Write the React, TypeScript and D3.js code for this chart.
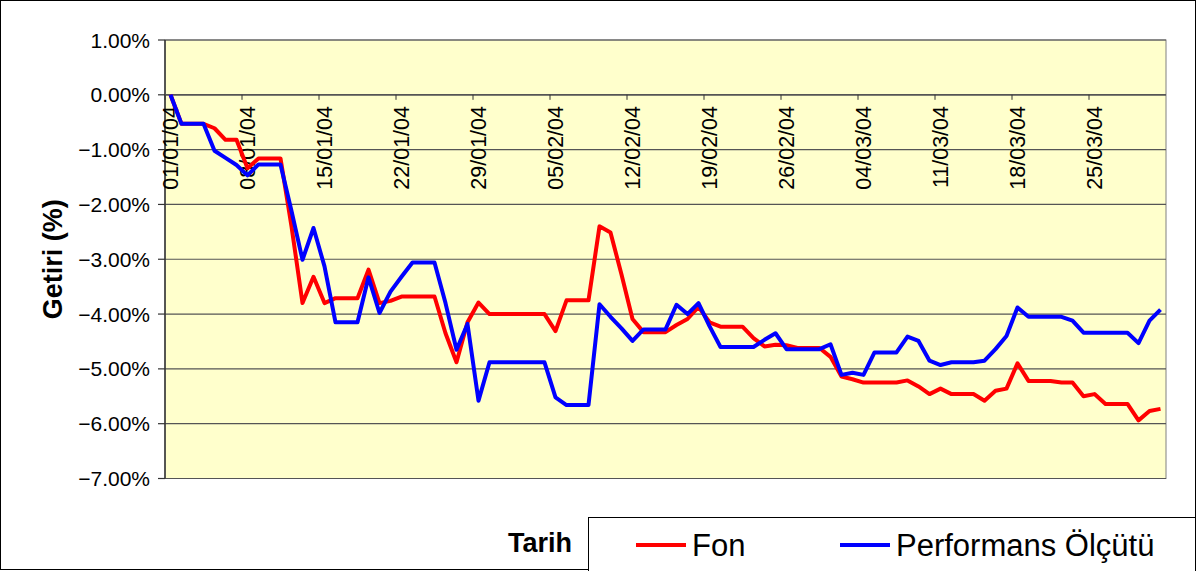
import * as React from 'react';
import * as d3 from 'd3';

// Günlük getiri (%) 01/01/04 - 31/03/04, hafta sonları bir önceki değer
const startDate = '01/01/04';
const endDate = '31/03/04';

const fonValues = [
    0, -0.53, -0.53, -0.53, -0.61, -0.82, -0.82, -1.34, -1.16, -1.16,
    -1.16, -2.40, -3.80, -3.32, -3.80, -3.71, -3.71, -3.71, -3.19, -3.80,
    -3.76, -3.68, -3.68, -3.68, -3.68, -4.35, -4.88, -4.15, -3.79, -4.00,
    -4.00, -4.00, -4.00, -4.00, -4.00, -4.31, -3.75, -3.75, -3.75, -2.40,
    -2.51, -3.28, -4.09, -4.33, -4.33, -4.33, -4.20, -4.09, -3.87, -4.15,
    -4.23, -4.23, -4.23, -4.44, -4.59, -4.56, -4.57, -4.62, -4.62, -4.62,
    -4.78, -5.14, -5.19, -5.25, -5.25, -5.25, -5.25, -5.21, -5.32, -5.46,
    -5.36, -5.46, -5.46, -5.46, -5.58, -5.40, -5.36, -4.90, -5.22, -5.22,
    -5.22, -5.25, -5.25, -5.50, -5.46, -5.64, -5.64, -5.64, -5.94, -5.77,
    -5.73,
];

const olcutValues = [
    0, -0.53, -0.53, -0.53, -1.02, -1.15, -1.28, -1.47, -1.27, -1.27,
    -1.27, -2.12, -3.01, -2.43, -3.13, -4.15, -4.15, -4.15, -3.33, -3.98,
    -3.59, -3.32, -3.06, -3.06, -3.06, -3.80, -4.65, -4.18, -5.58, -4.88,
    -4.88, -4.88, -4.88, -4.88, -4.88, -5.52, -5.66, -5.66, -5.66, -3.82,
    -4.05, -4.26, -4.49, -4.28, -4.28, -4.28, -3.83, -4.00, -3.80, -4.22,
    -4.60, -4.60, -4.60, -4.60, -4.47, -4.35, -4.64, -4.64, -4.64, -4.64,
    -4.55, -5.11, -5.07, -5.11, -4.70, -4.70, -4.70, -4.41, -4.49, -4.85,
    -4.93, -4.88, -4.88, -4.88, -4.85, -4.64, -4.40, -3.88, -4.05, -4.05,
    -4.05, -4.05, -4.12, -4.34, -4.34, -4.34, -4.34, -4.34, -4.53, -4.12,
    -3.92,
];

const xTickLabels = [
    '01/01/04', '08/01/04', '15/01/04', '22/01/04', '29/01/04', '05/02/04', '12/02/04',
    '19/02/04', '26/02/04', '04/03/04', '11/03/04', '18/03/04', '25/03/04',
];

const yTicks = [1, 0, -1, -2, -3, -4, -5, -6, -7];

const seriesNames = ['Fon', 'Performans Ölçütü'];
const seriesColors = ['#ff0000', '#0000ff'];

const W = 1197;
const H = 571;
const margin = { left: 165, right: 31, top: 40, bottom: 92.5 };
const font = '"Liberation Sans", Arial, sans-serif';

const App = () => {
    const parse = d3.utcParse('%d/%m/%y');
    const start = parse(startDate)!;
    const end = d3.utcDay.offset(parse(endDate)!, 1);
    const dates = d3.utcDay.range(start, end);
    const mid = (d: Date) => d3.utcHour.offset(d, 12);

    const x = d3.scaleUtc().domain([start, end]).range([margin.left, W - margin.right]);
    const y = d3.scaleLinear().domain([-7, 1]).range([H - margin.bottom, margin.top]);

    const line = d3.line<number>()
        .x((_, i) => x(mid(dates[i])))
        .y(v => y(v));

    const ticks = xTickLabels.map(l => parse(l)!);
    const x0 = margin.left;
    const x1 = W - margin.right;

    return (
        <svg width={W} height={H} style={{ position: 'absolute', left: 0, top: 0, background: 'white' }} fontFamily={font}>
            <rect x={0.5} y={0.5} width={W - 2} height={H - 2} fill="white" stroke="#000" strokeWidth={1} />

            <rect x={x0} y={y(1)} width={x1 - x0} height={y(-7) - y(1)} fill="#ffffcc" stroke="#808080" />

            {yTicks.map(t => (
                <line key={'g' + t} x1={x0} x2={x1} y1={y(t)} y2={y(t)} stroke="#555" strokeWidth={1.2} />
            ))}

            {/* y ekseni */}
            <line x1={x0} x2={x0} y1={y(1)} y2={y(-7)} stroke="#333" strokeWidth={1.5} />
            {yTicks.map(t => (
                <g key={'y' + t}>
                    <line x1={x0 - 7} x2={x0} y1={y(t)} y2={y(t)} stroke="#333" strokeWidth={1.2} />
                    <text x={150} y={y(t)} dy="0.36em" textAnchor="end" fontSize={21}>
                        {d3.format('.2f')(t) + '%'}
                    </text>
                </g>
            ))}

            {/* x ekseni 0 noktasında */}
            <line x1={x0} x2={x1} y1={y(0)} y2={y(0)} stroke="#555" strokeWidth={1.5} />
            {ticks.map((d, i) => (
                <g key={'x' + i}>
                    <line x1={x(d)} x2={x(d)} y1={y(0)} y2={y(0) + 5} stroke="#333" />
                    <text transform={`translate(${x(mid(d))},106) rotate(-90)`} dy="0.36em" textAnchor="end" fontSize={21.5}>
                        {xTickLabels[i]}
                    </text>
                </g>
            ))}

            <path d={line(fonValues)!} fill="none" stroke={seriesColors[0]} strokeWidth={4} strokeLinejoin="round" />
            <path d={line(olcutValues)!} fill="none" stroke={seriesColors[1]} strokeWidth={4} strokeLinejoin="round" />

            <text transform={`translate(62,${(y(1) + y(-7)) / 2}) rotate(-90)`} textAnchor="middle" fontSize={27} fontWeight="bold">
                Getiri (%)
            </text>

            <text x={572} y={552} textAnchor="end" fontSize={27} fontWeight="bold">Tarih</text>

            <rect x={588.5} y={517.5} width={W - 590} height={60} fill="white" stroke="#000" />
            {seriesNames.map((n, i) => {
                const lx = i === 0 ? 636 : 840;
                return (
                    <g key={n}>
                        <line x1={lx} x2={lx + 50} y1={545} y2={545} stroke={seriesColors[i]} strokeWidth={4} />
                        <text x={lx + 56} y={556} fontSize={31}>{n}</text>
                    </g>
                );
            })}
        </svg>
    );
};

export default App;
